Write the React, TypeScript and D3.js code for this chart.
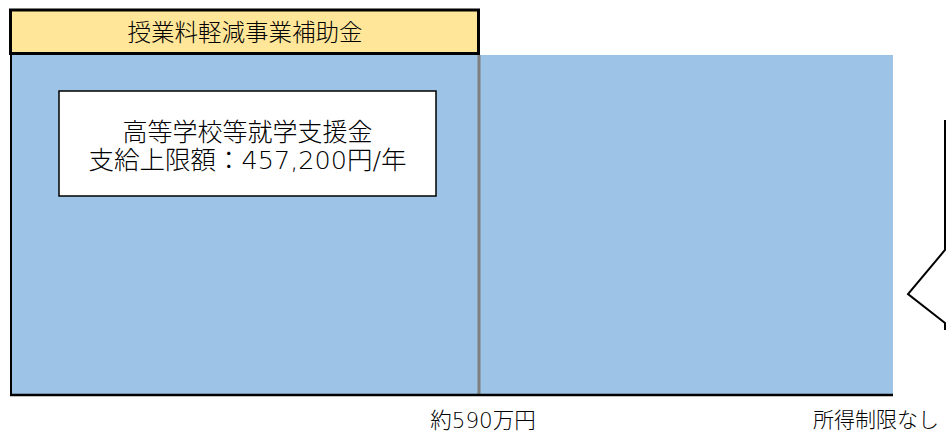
import React from "react";
import * as d3 from "d3";

const W = 946;
const H = 432;

// income thresholds (category positions along the axis)
const thresholds = [0, 1, 2];
const thresholdLabels = ["", "約590万円", "所得制限なし"];

// support amounts (yen / year)
const baseAmounts = [457200, 457200]; // 高等学校等就学支援金 for each income band
const topUpAmounts = [60500, 0]; // 授業料軽減事業補助金 (estimated height)
const baseLabel = ["高等学校等就学支援金", "支給上限額：457,200円/年"];
const topUpLabel = "授業料軽減事業補助金";

const FONT = "'Noto Sans CJK JP', 'Noto Sans', sans-serif";
const FONT_WIDE = "'DejaVu Sans', 'Noto Sans CJK JP', sans-serif";

export default function App() {
  const x = d3.scaleLinear().domain(thresholds).range([11, 479, 893]);
  const y = d3
    .scaleLinear()
    .domain([0, baseAmounts[0] + topUpAmounts[0]])
    .range([395, 10]);

  const bands = baseAmounts.map((v, i) => ({
    x0: x(thresholds[i]),
    x1: x(thresholds[i + 1]),
    base: v,
    top: topUpAmounts[i],
  }));

  return (
    <svg
      width={W}
      height={H}
      style={{ position: "absolute", left: 0, top: 0, display: "block" }}
    >
      <rect x={0} y={0} width={W} height={H} fill="#ffffff" />
      {/* base blue area */}
      {bands.map((b, i) => (
        <rect
          key={"b" + i}
          x={b.x0}
          y={y(b.base)}
          width={b.x1 - b.x0}
          height={y(0) - y(b.base)}
          fill="#9DC3E6"
        />
      ))}
      {/* top-up yellow */}
      {bands
        .filter((b) => b.top > 0)
        .map((b, i) => (
          <g key={"t" + i}>
            <rect
              x={b.x0 - 0.5}
              y={y(b.base + b.top)}
              width={b.x1 - b.x0}
              height={y(b.base) - y(b.base + b.top) - 1.5}
              fill="#FFE699"
              stroke="#000"
              strokeWidth={3}
            />
            <text
              x={(b.x0 + b.x1) / 2}
              y={(y(b.base + b.top) + y(b.base)) / 2}
              dy="0.35em"
              textAnchor="middle"
              fontFamily={FONT}
              fontSize={23.5}
              fontWeight={300}
              fill="#000"
            >
              {topUpLabel}
            </text>
          </g>
        ))}
      {/* threshold divider */}
      <line
        x1={x(1)}
        x2={x(1)}
        y1={y(baseAmounts[0])}
        y2={y(0)}
        stroke="#7f7f7f"
        strokeWidth={3}
      />
      {/* axes */}
      <line x1={x(0)} x2={x(0)} y1={y(baseAmounts[0])} y2={y(0) + 1} stroke="#000" strokeWidth={2} />
      <line x1={x(0) - 1} x2={x(2)} y1={y(0)} y2={y(0)} stroke="#000" strokeWidth={2.5} />
      {/* label box */}
      <rect x={59} y={91} width={377} height={105} fill="#fff" stroke="#000" strokeWidth={1.5} />
      {baseLabel.map((t, i) => (
        <text
          key={t}
          x={247.5}
          y={132 + i * 28}
          dy="0.35em"
          textAnchor="middle"
          fontFamily={FONT_WIDE}
          fontSize={i === 0 ? 25 : 25.5}
          fontWeight={300}
          fill="#000"
        >
          {t}
        </text>
      ))}
      {/* x labels */}
      <text
        x={x(1) + 4}
        y={420}
        dy="0.35em"
        textAnchor="middle"
        fontFamily={FONT_WIDE}
        fontSize={21.5}
        fontWeight={300}
        fill="#000"
      >
        {thresholdLabels[1]}
      </text>
      <text
        x={813}
        y={420}
        dy="0.35em"
        textAnchor="start"
        fontFamily={FONT}
        fontSize={21}
        fontWeight={300}
        fill="#000"
      >
        {thresholdLabels[2]}
      </text>
      {/* brace on the right */}
      <path
        d="M945,120 L945,250 L908,294 L945,323 L945,330"
        fill="none"
        stroke="#000"
        strokeWidth={2}
      />
    </svg>
  );
}
